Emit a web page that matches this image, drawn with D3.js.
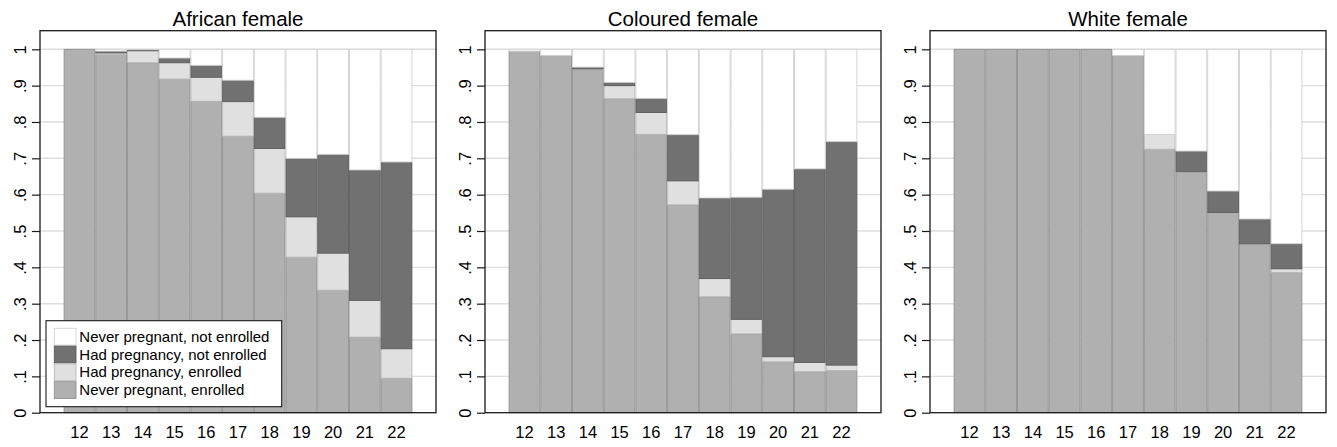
<!DOCTYPE html>
<html><head><meta charset="utf-8">
<script src="https://cdn.jsdelivr.net/npm/d3@7"></script>
<style>body{margin:0;background:#fff}svg{display:block}</style>
</head><body>
<svg id="chart" width="1337" height="447"></svg>
<script>
const ages = ["12","13","14","15","16","17","18","19","20","21","22"];
const yTicks = [0,0.1,0.2,0.3,0.4,0.5,0.6,0.7,0.8,0.9,1];
const yTickLabels = ["0",".1",".2",".3",".4",".5",".6",".7",".8",".9","1"];
const panelTitles = ["African female","Coloured female","White female"];
const seriesNames = ["Never pregnant, enrolled","Had pregnancy, enrolled","Had pregnancy, not enrolled","Never pregnant, not enrolled"];
const seriesColors = ["#b0b0b0","#e0e0e0","#717171","#ffffff"];

// African female
const africanNPE  = [1.000,0.985,0.963,0.918,0.857,0.761,0.604,0.428,0.337,0.208,0.095];
const africanHPE  = [0.000,0.005,0.033,0.045,0.066,0.095,0.123,0.111,0.102,0.101,0.081];
const africanHPNE = [0.000,0.005,0.003,0.013,0.033,0.059,0.086,0.161,0.272,0.359,0.514];
const africanNPNE = [0.000,0.005,0.001,0.024,0.044,0.085,0.187,0.300,0.289,0.332,0.310];
// Coloured female
const colouredNPE  = [0.995,0.983,0.943,0.864,0.766,0.572,0.319,0.217,0.140,0.113,0.116];
const colouredHPE  = [0.000,0.000,0.003,0.036,0.060,0.066,0.050,0.040,0.014,0.025,0.015];
const colouredHPNE = [0.000,0.000,0.005,0.009,0.039,0.127,0.222,0.336,0.461,0.533,0.615];
const colouredNPNE = [0.005,0.017,0.049,0.091,0.135,0.235,0.409,0.407,0.385,0.329,0.254];
// White female
const whiteNPE  = [1.000,1.000,1.000,1.000,1.000,0.983,0.725,0.661,0.551,0.465,0.386];
const whiteHPE  = [0.000,0.000,0.000,0.000,0.000,0.000,0.041,0.002,0.000,0.000,0.010];
const whiteHPNE = [0.000,0.000,0.000,0.000,0.000,0.000,0.000,0.057,0.059,0.068,0.069];
const whiteNPNE = [0.000,0.000,0.000,0.000,0.000,0.017,0.234,0.280,0.390,0.467,0.535];

const panels = [
  [africanNPE, africanHPE, africanHPNE, africanNPNE],
  [colouredNPE, colouredHPE, colouredHPNE, colouredNPNE],
  [whiteNPE, whiteHPE, whiteHPNE, whiteNPNE]
];

const svg = d3.select("#chart");
const font = "Liberation Sans, Arial, sans-serif";
const panelLeft = [40, 485, 930];
const pw = 396, plotTop = 30.7, plotBottom = 412.7;

const y = d3.scaleLinear().domain([0, 1.0512]).range([plotBottom, plotTop]);
const x = d3.scaleBand().domain(ages).range([0, pw]).paddingInner(0.03).paddingOuter(0.76);

panels.forEach((series, pi) => {
  const g = svg.append("g").attr("transform", `translate(${panelLeft[pi]},0)`);
  // gridlines
  g.selectAll("line.grid").data(yTicks.slice(1)).join("line")
    .attr("x1", 0).attr("x2", pw)
    .attr("y1", d => y(d)).attr("y2", d => y(d))
    .attr("stroke", "#dedede").attr("stroke-width", 1.4);

  const rows = ages.map((a, i) => {
    const r = {age: a};
    seriesNames.forEach((s, k) => r[s] = series[k][i]);
    return r;
  });
  const stacked = d3.stack().keys(seriesNames)(rows);
  stacked.forEach((layer, k) => {
    g.selectAll(null).data(layer).join("rect")
      .attr("x", d => x(d.data.age))
      .attr("width", x.bandwidth())
      .attr("y", d => y(d[1]))
      .attr("height", d => Math.max(0, y(d[0]) - y(d[1])))
      .attr("fill", seriesColors[k])
      .attr("stroke", d3.color(seriesColors[k]).darker(0.55))
      .attr("stroke-width", 0.9)
      .attr("display", d => (d[1]-d[0]) > 0 ? null : "none");
  });

  // frame
  g.append("rect").attr("x", 0).attr("y", plotTop).attr("width", pw).attr("height", plotBottom - plotTop)
    .attr("fill", "none").attr("stroke", "#1a1a1a").attr("stroke-width", 1.3);

  // y axis
  const yAxis = d3.axisLeft(y).tickValues(yTicks).tickSize(8).tickPadding(7)
    .tickFormat((d, i) => yTickLabels[i]);
  const ya = g.append("g").call(yAxis);
  ya.select(".domain").remove();
  ya.selectAll(".tick line").attr("stroke", "#1a1a1a").attr("stroke-width", 1.2);
  ya.selectAll(".tick text")
    .attr("font-family", font).attr("font-size", 16.5).attr("fill", "#000")
    .attr("text-anchor", "middle")
    .attr("x", 0).attr("y", 0).attr("dy", "0em")
    .attr("transform", "translate(-14.5,0) rotate(-90)");

  // x axis
  const xAxis = d3.axisBottom(x).tickSize(0).tickPadding(14);
  const xa = g.append("g").attr("transform", `translate(0,${plotBottom})`).call(xAxis);
  xa.select(".domain").remove();
  xa.selectAll(".tick text").attr("font-family", font).attr("font-size", 16.5).attr("fill", "#000");

  // title
  g.append("text").attr("x", pw / 2).attr("y", 26).attr("text-anchor", "middle")
    .attr("font-family", font).attr("font-size", 20.5).attr("fill", "#000").text(panelTitles[pi]);
});

// legend in first panel
const lg = svg.append("g").attr("transform", "translate(46,320.7)");
lg.append("rect").attr("width", 235.7).attr("height", 86).attr("fill", "#fff")
  .attr("stroke", "#1a1a1a").attr("stroke-width", 1.1);
const legendOrder = [3, 2, 1, 0];
legendOrder.forEach((k, i) => {
  const row = lg.append("g").attr("transform", `translate(8.3,${7.6 + i * 17.8})`);
  row.append("rect").attr("width", 21.7).attr("height", 16.8)
    .attr("fill", seriesColors[k]).attr("stroke", d3.color(seriesColors[k]).darker(0.55)).attr("stroke-width", 0.9);
  row.append("text").attr("x", 25).attr("y", 13.5)
    .attr("font-family", font).attr("font-size", 15).attr("fill", "#000").text(seriesNames[k]);
});
</script>
</body></html>
